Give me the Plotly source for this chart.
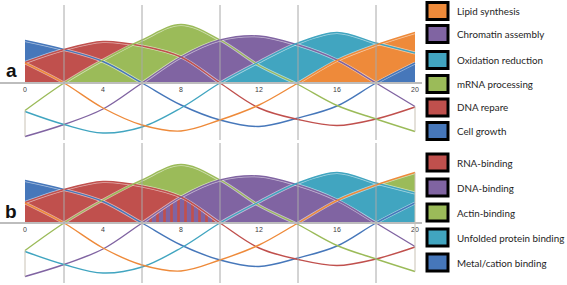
import plotly.graph_objects as go

# ---------------- data ----------------
x_vals = [0, 2, 4, 6, 8, 10, 12, 14, 16, 18, 20]
cell_growth         = [0.85, 0.67, 0.43, 0.00, -0.44, -0.74, -0.87, -0.70, -0.46, 0.00, 0.40]
dna_repair          = [0.41, 0.67, 0.83, 0.74, 0.52, 0.00, -0.50, -0.73, -0.85, -0.72, -0.48]
mrna_processing     = [-0.55, 0.00, 0.46, 0.86, 1.17, 0.86, 0.35, -0.03, -0.45, -0.72, -0.97]
chromatin_assembly  = [-1.07, -0.83, -0.52, 0.00, 0.52, 0.86, 0.94, 0.76, 0.46, 0.00, -0.47]
oxidation_reduction = [-0.57, -0.83, -1.00, -0.88, -0.50, 0.00, 0.42, 0.80, 1.01, 0.80, 0.60]
lipid_synthesis     = [0.40, 0.00, -0.50, -0.84, -0.96, -0.74, -0.44, 0.00, 0.45, 0.76, 1.01]

tick_vals = [0, 4, 8, 12, 16, 20]
grid_x = [2, 6, 10, 14, 18]

legend_a = ["Lipid synthesis", "Chromatin assembly", "Oxidation reduction",
            "mRNA processing", "DNA repare", "Cell growth"]
legend_b = ["RNA-binding", "DNA-binding", "Actin-binding",
            "Unfolded protein binding", "Metal/cation binding"]

# ---------------- styles ----------------
BLUE = "#4677BA"
RED = "#C0504D"
GREEN = "#9BBB59"
PURPLE = "#8064A2"
TEAL = "#41A5C0"
ORANGE = "#EE8A3A"

legend_a_colors = [ORANGE, PURPLE, TEAL, GREEN, RED, BLUE]
legend_b_colors = [RED, PURPLE, GREEN, TEAL, BLUE]

W, H = 567, 285
PX_PER_UNIT = 19.5
X0_PX = 25
XR_PX = 422


def fy(px):
    return (H - px) / H


x_range = [-X0_PX / PX_PER_UNIT, (XR_PX - X0_PX) / PX_PER_UNIT]
x_domain = [0, XR_PX / W]

panels = {
    "a": dict(ydom=[fy(140), fy(5)], yr=[-1.14, 1.56], xa="x", ya="y"),
    "b": dict(ydom=[fy(283), fy(143)], yr=[-1.2, 1.6], xa="x2", ya="y2"),
}

curves = [
    (cell_growth, BLUE),
    (dna_repair, RED),
    (mrna_processing, GREEN),
    (chromatin_assembly, PURPLE),
    (oxidation_reduction, TEAL),
    (lipid_synthesis, ORANGE),
]

fig = go.Figure()


def area(ys, color, xa, ya, i0=0, i1=None, pattern=None):
    xs = x_vals[i0:i1]
    yy = ys[i0:i1]
    kw = dict(x=xs, y=yy, mode="lines", line=dict(width=0, shape="spline"),
              fill="tozeroy", xaxis=xa, yaxis=ya, hoverinfo="skip", showlegend=False)
    if pattern:
        kw["fillcolor"] = "rgba(0,0,0,0)"
        kw["fillpattern"] = dict(shape="|", fgcolor=color, bgcolor="rgba(0,0,0,0)",
                                 fgopacity=1, fillmode="replace", size=7, solidity=0.38)
    else:
        kw["fillcolor"] = color
    fig.add_trace(go.Scatter(**kw))


def mask(p):
    yr = p["yr"]
    fig.add_trace(go.Scatter(
        x=[x_range[0], x_range[1], x_range[1], x_range[0], x_range[0]],
        y=[0, 0, yr[0], yr[0], 0], mode="lines", line=dict(width=0),
        fill="toself", fillcolor="white", xaxis=p["xa"], yaxis=p["ya"],
        hoverinfo="skip", showlegend=False))


def lines(p):
    for ys, color in curves:
        fig.add_trace(go.Scatter(x=x_vals, y=ys, mode="lines",
                                 line=dict(width=3.0, color="rgba(255,255,255,0.55)", shape="spline"),
                                 xaxis=p["xa"], yaxis=p["ya"], hoverinfo="skip", showlegend=False))
    for ys, color in curves:
        fig.add_trace(go.Scatter(x=x_vals, y=ys, mode="lines",
                                 line=dict(width=1.4, color=color, shape="spline"),
                                 xaxis=p["xa"], yaxis=p["ya"], hoverinfo="skip", showlegend=False))


# ----- panel a -----
pa = panels["a"]
area(lipid_synthesis, ORANGE, pa["xa"], pa["ya"], 0, 3)
area(cell_growth, BLUE, pa["xa"], pa["ya"], 0, 5)
area(dna_repair, RED, pa["xa"], pa["ya"])
area(mrna_processing, GREEN, pa["xa"], pa["ya"])
area(chromatin_assembly, PURPLE, pa["xa"], pa["ya"])
area(oxidation_reduction, TEAL, pa["xa"], pa["ya"])
area(lipid_synthesis, ORANGE, pa["xa"], pa["ya"], 6, None)
area(cell_growth, BLUE, pa["xa"], pa["ya"], 7, None)
mask(pa)
lines(pa)

# ----- panel b -----
pb = panels["b"]
area(cell_growth, BLUE, pb["xa"], pb["ya"], 0, 5)
area(mrna_processing, GREEN, pb["xa"], pb["ya"])
area(dna_repair, RED, pb["xa"], pb["ya"])
area(lipid_synthesis, GREEN, pb["xa"], pb["ya"], 6, None)
area(oxidation_reduction, TEAL, pb["xa"], pb["ya"])
area(chromatin_assembly, PURPLE, pb["xa"], pb["ya"])
area(dna_repair, RED, pb["xa"], pb["ya"], pattern=True)
mask(pb)
lines(pb)

# ----- axes -----
def zero_pos(p):
    d0, d1 = p["ydom"]
    r0, r1 = p["yr"]
    return d0 + (0 - r0) / (r1 - r0) * (d1 - d0)


xcommon = dict(range=x_range, domain=x_domain, tickmode="array", tickvals=tick_vals,
               showgrid=False, zeroline=False, showline=True, linecolor="#BDBDBD",
               linewidth=1.5, ticks="", tickfont=dict(family="Liberation Sans", size=7, color="#404040"),
               anchor="free", layer="above traces", fixedrange=True)
ycommon = dict(visible=False, showgrid=False, zeroline=False, fixedrange=True)

fig.update_layout(
    xaxis=dict(**xcommon, position=zero_pos(pa)),
    yaxis=dict(**ycommon, domain=pa["ydom"], range=pa["yr"]),
    xaxis2=dict(**xcommon, position=zero_pos(pb)),
    yaxis2=dict(**ycommon, domain=pb["ydom"], range=pb["yr"]),
)

shapes = []
# vertical grid lines
for p in (pa, pb):
    for gx in grid_x:
        shapes.append(dict(type="line", xref=p["xa"], yref=p["ya"] + " domain",
                           x0=gx, x1=gx, y0=0, y1=1, layer="above",
                           line=dict(color="#A8A8A8", width=1)))

# edge segments at the ends of the curves
vals_at = lambda i: [c[0][i] for c in curves]
neg0 = [v for v in vals_at(0) if v < 0]
neg20 = [v for v in vals_at(-1) if v < 0]
all20 = vals_at(-1)
edge_segments = [
    (pa, 0, max(neg0), min(neg0)),
    (pb, 0, max(neg0), min(neg0)),
    (pa, 20, max(neg20), min(neg20)),
    (pb, 20, max(all20), min(all20)),
]
for p, ex, y0, y1 in edge_segments:
    shapes.append(dict(type="line", xref=p["xa"], yref=p["ya"], x0=ex, x1=ex, y0=y0, y1=y1,
                       layer="above", line=dict(color="#C9C2B5", width=1)))

annotations = []
# panel letters
for letter, (px, py) in (("a", (11, 70)), ("b", (11, 211))):
    annotations.append(dict(text="<b>%s</b>" % letter, x=px / W, y=fy(py), xref="paper", yref="paper",
                            xanchor="center", yanchor="middle", showarrow=False,
                            font=dict(family="Liberation Sans", size=19, color="#111111")))

# custom legends
BOX_X0, BOX_X1, TEXT_X = 427, 448, 455
legend_a_y = [11, 34, 60, 84, 107.5, 131]
legend_b_y = [162.5, 187.5, 212.5, 237.5, 262.5]
for names, cols, ys in ((legend_a, legend_a_colors, legend_a_y), (legend_b, legend_b_colors, legend_b_y)):
    for name, col, yc in zip(names, cols, ys):
        shapes.append(dict(type="rect", xref="paper", yref="paper",
                           x0=BOX_X0 / W, x1=BOX_X1 / W, y0=fy(yc + 8.5), y1=fy(yc - 8.5),
                           fillcolor=col, line=dict(color="#000000", width=3), layer="above"))
        annotations.append(dict(text=name, x=TEXT_X / W, y=fy(yc), xref="paper", yref="paper",
                                xanchor="left", yanchor="middle", showarrow=False,
                                font=dict(family="Lato", size=9.8, color="#1E1E1E")))

fig.update_layout(
    width=W, height=H, margin=dict(l=0, r=0, t=0, b=0),
    paper_bgcolor="white", plot_bgcolor="white",
    showlegend=False, shapes=shapes, annotations=annotations,
)

fig.write_html("out.html", config={"displayModeBar": False},
               post_script="document.body.style.margin='0';document.body.style.overflow='hidden';")
